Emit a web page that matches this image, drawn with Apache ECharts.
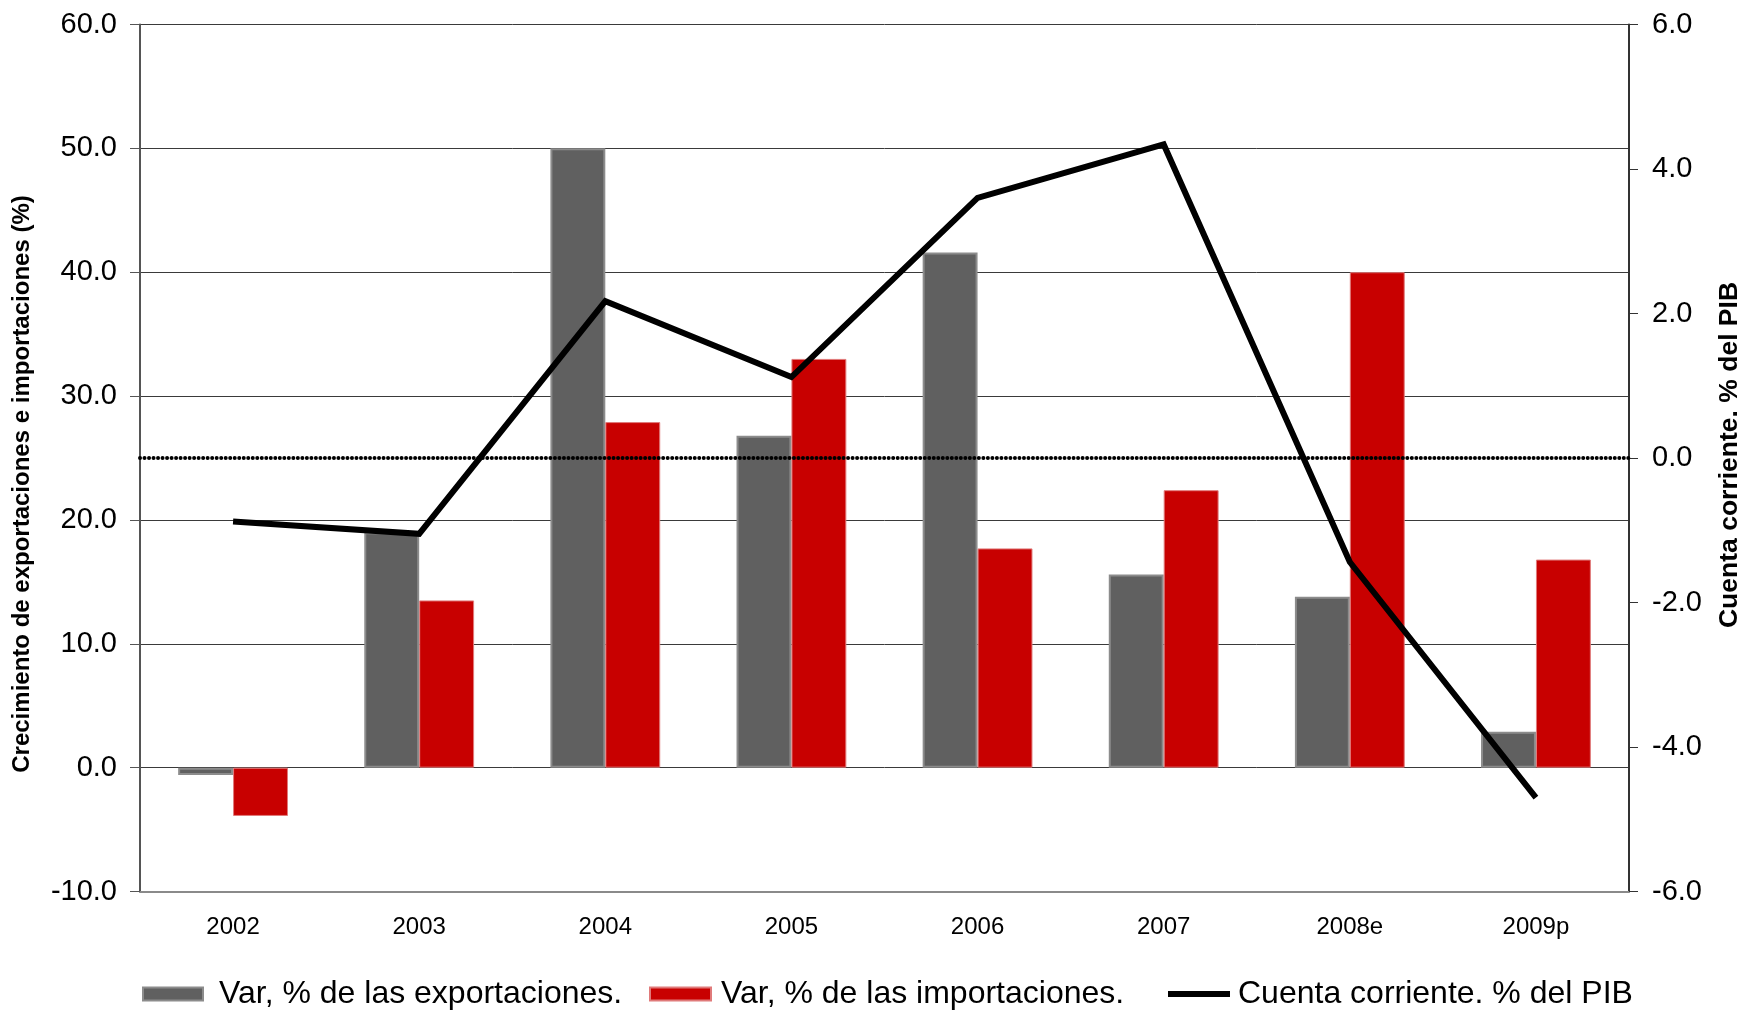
<!DOCTYPE html>
<html>
<head>
<meta charset="utf-8">
<script src="https://cdn.jsdelivr.net/npm/echarts@6/dist/echarts.min.js"></script>
<style>
  html, body { margin: 0; padding: 0; background: #ffffff; }
  #chart { width: 1740px; height: 1011px; }
</style>
</head>
<body>
<div id="chart"></div>
<script>
// Years on the category axis
const years = ['2002', '2003', '2004', '2005', '2006', '2007', '2008e', '2009p'];
// Annual growth of exports and imports (%)
const exportGrowth = [-0.6, 19.0, 50.0, 26.8, 41.6, 15.6, 13.8, 2.9];
const importGrowth = [-3.9, 13.5, 27.9, 33.0, 17.7, 22.4, 40.0, 16.8];
// Current account balance (% of GDP)
const currentAccount = [-0.88, -1.05, 2.17, 1.12, 3.60, 4.34, -1.44, -4.70];

const seriesNames = [
  'Var, % de las exportaciones.',
  'Var, % de las importaciones.',
  'Cuenta corriente. % del PIB'
];

const FONT = '"Liberation Sans", Arial, Helvetica, sans-serif';

const chart = echarts.init(document.getElementById('chart'), null, { renderer: 'canvas' });

function legendText(padLeft) {
  return { fontFamily: FONT, fontSize: 32, color: '#000', padding: [0, 0, 0, padLeft] };
}

chart.setOption({
  backgroundColor: '#ffffff',
  animation: false,
  grid: {
    left: 140, right: 111, top: 24.5, bottom: 119.5,
    containLabel: false, outerBoundsMode: 'none'
  },
  legend: [
    {
      data: [seriesNames[0]], left: 137, top: 973, itemWidth: 60, itemHeight: 13,
      icon: 'rect', textStyle: legendText(11)
    },
    {
      data: [seriesNames[1]], left: 644, top: 973, itemWidth: 61, itemHeight: 13,
      icon: 'rect', textStyle: legendText(5)
    },
    {
      data: [seriesNames[2]], left: 1163, top: 973, itemWidth: 62, itemHeight: 6,
      icon: 'rect', textStyle: legendText(3)
    }
  ],
  xAxis: {
    type: 'category',
    data: years,
    axisLine: { onZero: false, lineStyle: { color: '#8a8a8a', width: 2 } },
    axisTick: { show: false },
    axisLabel: { fontFamily: FONT, fontSize: 24, color: '#000', margin: 24 }
  },
  yAxis: [
    {
      type: 'value',
      min: -10, max: 60, interval: 10,
      name: 'Crecimiento de exportaciones e importaciones (%)',
      nameLocation: 'middle',
      nameRotate: 90,
      nameGap: 106,
      nameTextStyle: {
        fontFamily: FONT, fontSize: 24, fontWeight: 'bold', color: '#000',
        padding: [0, 52, 0, 0]
      },
      axisLine: { show: true, lineStyle: { color: '#555', width: 2 } },
      axisTick: { show: true, length: 10, lineStyle: { color: '#555', width: 1 } },
      axisLabel: {
        fontFamily: FONT, fontSize: 29, color: '#000', margin: 23,
        formatter: v => v.toFixed(1)
      },
      splitLine: { show: true, lineStyle: { color: '#3a3a3a', width: 1 } }
    },
    {
      type: 'value',
      min: -6, max: 6, interval: 2,
      position: 'right',
      name: 'Cuenta corriente. % del PIB',
      nameLocation: 'middle',
      nameRotate: 90,
      nameGap: 87,
      nameTextStyle: {
        fontFamily: FONT, fontSize: 26.5, fontWeight: 'bold', color: '#000',
        padding: [0, 0, 0, 6]
      },
      axisLine: { show: true, lineStyle: { color: '#333', width: 2 } },
      axisTick: { show: true, length: 9, lineStyle: { color: '#333', width: 1 } },
      axisLabel: {
        fontFamily: FONT, fontSize: 29, color: '#000', margin: 23,
        formatter: v => v.toFixed(1)
      },
      splitLine: { show: false }
    }
  ],
  series: [
    {
      name: seriesNames[0],
      type: 'bar',
      data: exportGrowth,
      barGap: '0%',
      barCategoryGap: '41%',
      itemStyle: { color: '#606060', borderColor: '#8c8c8c', borderWidth: 2 }
    },
    {
      name: seriesNames[1],
      type: 'bar',
      data: importGrowth,
      itemStyle: { color: '#c80000', borderColor: '#e07a7a', borderWidth: 1 }
    },
    {
      name: seriesNames[2],
      type: 'line',
      yAxisIndex: 1,
      data: currentAccount,
      symbol: 'none',
      z: 5,
      lineStyle: { color: '#000', width: 6, join: 'miter' },
      itemStyle: { color: '#000' },
      markLine: {
        silent: true,
        symbol: ['none', 'none'],
        label: { show: false },
        lineStyle: { color: '#000', width: 4, type: [0.01, 4.5], cap: 'round' },
        data: [{ yAxis: 0 }]
      }
    }
  ]
});
</script>
</body>
</html>
